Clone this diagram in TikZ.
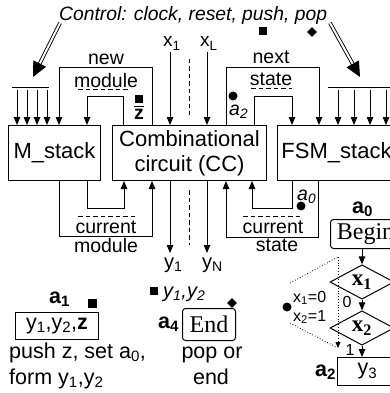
\documentclass[tikz,border=0pt]{standalone}
\usepackage{fontspec}
\setmainfont{Liberation Sans}
\newfontfamily\seriffam{Liberation Serif}
\usetikzlibrary{arrows.meta,calc,shapes.geometric}
\newcommand\szbox{\fontsize{22}{25}\selectfont}
\newcommand\szlbl{\fontsize{19.5}{22}\selectfont}
\newcommand\sztxt{\fontsize{21.5}{26}\selectfont}
\newcommand\szsml{\fontsize{16}{18}\selectfont}
\begin{document}
\begin{tikzpicture}[x=1pt,y=-1pt,
  box/.style={draw,line width=1pt,inner sep=0pt,anchor=north west},
  rbox/.style={box,rounded corners=3pt},
  arr/.style={line width=1pt,-{Triangle[length=8pt,width=6.5pt]}},
  ln/.style={line width=1pt},
  dsh/.style={line width=1pt,dash pattern=on 4.5pt off 3pt},
  dbl/.style={double,double distance=2pt,line width=0.9pt},
  bighead/.style={line width=0.9pt,-{Triangle[length=15pt,width=14pt]}},
  txt/.style={inner sep=0pt,anchor=base},
  sq/.style={fill,inner sep=0pt,minimum size=8pt},
  dm/.style={fill,diamond,inner sep=0pt,minimum size=10pt},
  dot/.style={fill,circle,inner sep=0pt,minimum size=9pt},
  dec/.style={draw,diamond,line width=1pt,inner sep=0pt,minimum width=64pt,minimum height=30pt,font=\seriffam\fontsize{23}{24}\selectfont\bfseries},
  dotl/.style={line width=0.8pt,dotted}
]
\useasboundingbox (0,0) rectangle (390,393);
\clip (0,0) rectangle (390,393);

% main boxes
\node[box,minimum width=92pt,minimum height=55pt,font=\szbox] (ms) at (8,125) {M\_stack};
\node[box,minimum width=154pt,minimum height=55pt,align=center,font=\szbox] (cc) at (112,125) {Combinational\\circuit (CC)};
\node[box,minimum width=118pt,minimum height=55pt,font=\szbox] (fsm) at (277,125) {FSM\_stack};

% control
\node[txt,anchor=base west,font=\fontsize{19.3}{20}\selectfont\itshape] (ctrl) at (59,21) {Control: clock, reset, push, pop};
\coordinate (ls) at (60,23); \coordinate (lt) at (33,77);
\coordinate (rs) at (330,23); \coordinate (rt) at (360,77);
\draw[dbl] (ls) -- ($(lt)!13pt!(ls)$);
\draw[bighead] ($(lt)!14pt!(ls)$) -- (lt);
\draw[dbl] (rs) -- ($(rt)!13pt!(rs)$);
\draw[bighead] ($(rt)!14pt!(rs)$) -- (rt);
\coordinate (lb1) at (12,86.5); \coordinate (lb2) at (49,86.5);
\coordinate (rb1) at (328,86.5); \coordinate (rb2) at (396,86.5);
\draw[dbl] (lb1) -- (lb2);
\draw[dbl] (rb1) -- (rb2);
\foreach \x in {17,27,37,47} \draw[arr] (\x,90) -- (\x,0 |- ms.north);
\foreach \x in {338,354,370,386} \draw[arr] (\x,90) -- (\x,0 |- fsm.north);

% new module
\draw[arr] (152,0 |- cc.north) |- (59,68) -- (59,0 |- ms.north);
\draw[arr] (123,0 |- cc.north) |- (87,97) -- (87,0 |- ms.north);
\node[txt,font=\szlbl] (new) at (106,65) {new};
\node[txt,font=\szlbl] (nmod) at (106,88) {module};
\draw[dsh] (78,90) -- (128,90);
\node[sq] (sqz) at (139,99.5) {};
\node[txt,font=\szlbl\bfseries] (z) at (139,119) {z};
\draw[ln] ([yshift=2pt]z.north west) -- ([yshift=2pt]z.north east);

% next state
\draw[arr] (226,0 |- cc.north) |- (319,68) -- (319,0 |- fsm.north);
\draw[arr] (254,0 |- cc.north) |- (292,97) -- (292,0 |- fsm.north);
\node[txt,font=\szlbl] (next) at (271,64) {next};
\node[txt,font=\szlbl] (nst) at (271,86) {state};
\draw[dsh] (251,89) -- (292,89);
\node[dot] (c2) at (233,96) {};
\node[txt,anchor=base west,font=\szlbl\itshape] (a2i) at (229,115) {a\textsubscript{2}};
\node[sq] (sqt) at (263,31) {};
\node[dm] (dmt) at (312,32) {};

% inputs x
\node[txt,anchor=base west,font=\fontsize{19}{20}\selectfont] (x1) at (163,47) {x\textsubscript{1}};
\node[txt,anchor=base west,font=\fontsize{19}{20}\selectfont] (xL) at (200,47) {x\textsubscript{L}};
\draw[arr] (170,52) -- (170,0 |- cc.north);
\draw[arr] (207,52) -- (207,0 |- cc.north);
\draw[dsh] (189,59) -- (189,115);

% current module / state
\draw[arr] (87,0 |- ms.south) |- (124,208) -- (124,0 |- cc.south);
\draw[arr] (59,0 |- ms.south) |- (152,236) -- (152,0 |- cc.south);
\draw[arr] (292,0 |- fsm.south) |- (252,208) -- (252,0 |- cc.south);
\draw[arr] (318,0 |- fsm.south) |- (226,237) -- (226,0 |- cc.south);
\draw[dsh] (78,216) -- (135,216);
\draw[dsh] (243,216) -- (300,216);
\node[txt,font=\szlbl] (cur1) at (106,233) {current};
\node[txt,font=\szlbl] (cmod) at (106,252) {module};
\node[txt,font=\szlbl] (cur2) at (273,233) {current};
\node[txt,font=\szlbl] (cst) at (277,251) {state};
\node[dot] (c0) at (301,206) {};
\node[txt,anchor=base west,font=\szlbl\itshape] (a0i) at (297,200) {a\textsubscript{0}};

% outputs y
\draw[arr] (170,0 |- cc.south) -- (170,253);
\draw[arr] (207,0 |- cc.south) -- (207,253);
\draw[dsh] (189,190) -- (189,245);
\node[txt,anchor=base west,font=\fontsize{20}{22}\selectfont] (y1) at (164,268) {y\textsubscript{1}};
\node[txt,anchor=base west,font=\fontsize{20}{22}\selectfont] (yN) at (202,268) {y\textsubscript{N}};

% bottom left: state a1
\node[txt,anchor=base west,font=\sztxt\bfseries] (a1) at (49,303) {a\textsubscript{1}};
\node[sq,minimum size=9pt] (sq1) at (92.5,303.5) {};
\node[box,minimum width=83pt,minimum height=27pt,font=\sztxt] (b1) at (15,312) {y\textsubscript{1},y\textsubscript{2},\textbf{z}};
\node[txt,anchor=base west,font=\sztxt] (t1) at (9,358) {push z, set a\textsubscript{0},};
\node[txt,anchor=base west,font=\sztxt] (t2) at (9,384) {form y\textsubscript{1},y\textsubscript{2}};

% middle bottom: a4
\node[sq] (sq2) at (154,291) {};
\node[txt,anchor=base west,font=\fontsize{20}{22}\selectfont\itshape] (yy) at (163,297) {y\textsubscript{1},y\textsubscript{2}};
\node[txt,anchor=base west,font=\sztxt\bfseries] (a4) at (158,328) {a\textsubscript{4}};
\node[rbox,minimum width=53pt,minimum height=32pt,font=\seriffam\fontsize{24}{26}\selectfont] (end) at (182,308) {End};
\node[dm] (dm2) at (232,303) {};
\node[txt,font=\sztxt] (t3) at (212,358) {pop or};
\node[txt,font=\sztxt] (t4) at (211,384) {end};

% right flowchart
\node[txt,anchor=base west,font=\sztxt\bfseries] (a0) at (352,213) {a\textsubscript{0}};
\node[rbox,minimum width=70pt,minimum height=29pt,font=\seriffam\fontsize{24}{26}\selectfont] (beg) at (330,219) {Begin};
\node[dec] (d1) at (362,282) {x\textsubscript{1}};
\node[dec] (d2) at (362,328) {x\textsubscript{2}};
\node[box,minimum width=60pt,minimum height=28pt,font=\sztxt] (y3) at (337,357) {y\textsubscript{3}};
\draw[arr] (d1.north |- beg.south) -- (d1.north);
\draw[arr] (d1.south) -- (d2.north);
\draw[arr] (d2.south) -- (d2.south |- y3.north);
\node[txt,font=\szsml] (l0) at (347,307) {0};
\node[txt,font=\szsml] (l1) at (350,355) {1};
\node[txt,anchor=base west,font=\sztxt\bfseries] (a2) at (315,376) {a\textsubscript{2}};
\coordinate (p1) at (290,283); \coordinate (p2) at (338,257);
\coordinate (p3) at (338,348); \coordinate (p4) at (290,323); \coordinate (p5) at (336,347);
\draw[dotl] (p1) -- (p2);
\draw[dotl,-{Triangle[length=6pt,width=5pt]}] (p2) -- (p3);
\draw[dotl] (p4) -- (p5);
\node[dot] (c3) at (287,307) {};
\node[txt,anchor=base west,font=\szsml] (e1) at (293,302) {x\textsubscript{1}=0};
\node[txt,anchor=base west,font=\szsml] (e2) at (293,321) {x\textsubscript{2}=1};
\end{tikzpicture}
\end{document}
